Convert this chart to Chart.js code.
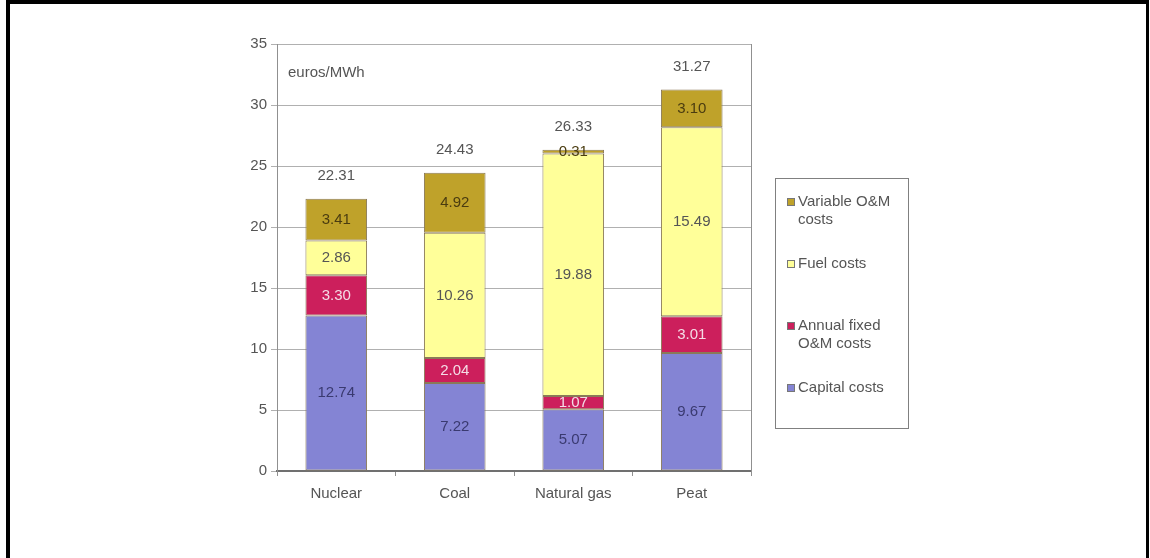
<!DOCTYPE html>
<html>
<head>
<meta charset="utf-8">
<script src="https://cdn.jsdelivr.net/npm/chart.js@4.4.1/dist/chart.umd.min.js"></script>
<style>
  html, body { margin: 0; padding: 0; background: #fff; }
  #wrap { position: relative; width: 1150px; height: 558px; overflow: hidden; }
  #frame { position: absolute; left: 6px; top: 0px; width: 1136px; height: 570px;
           border-top: 4px solid #000; border-left: 4px solid #000; border-right: 3px solid #000; }
  canvas { position: absolute; left: 0; top: 0; }
</style>
</head>
<body>
<div id="wrap">
  <div id="frame"></div>
  <canvas id="costChart" width="1150" height="558"></canvas>
</div>
<script>
const categories = ['Nuclear', 'Coal', 'Natural gas', 'Peat'];
const seriesNames = ['Capital costs', 'Annual fixed O&M costs', 'Fuel costs', 'Variable O&M costs'];
const capitalCosts = [12.74, 7.22, 5.07, 9.67];
const fixedOMCosts = [3.30, 2.04, 1.07, 3.01];
const fuelCosts = [2.86, 10.26, 19.88, 15.49];
const variableOMCosts = [3.41, 4.92, 0.31, 3.10];
const totals = [22.31, 24.43, 26.33, 31.27];
const yTicks = [0, 5, 10, 15, 20, 25, 30, 35];

const colors = ['#8484d4', '#cc1f5c', '#ffff99', '#bfa22a'];
const labelColors = ['#3a3a70', '#f4dce6', '#555555', '#4a3c10'];
const seriesValues = [capitalCosts, fixedOMCosts, fuelCosts, variableOMCosts];
const FONT = '"Liberation Sans", Arial, sans-serif';

// segment values, totals, unit text, plot border
const labelsPlugin = {
  id: 'labelsPlugin',
  afterDatasetsDraw(chart) {
    const ctx = chart.ctx;
    const area = chart.chartArea;
    ctx.save();
    ctx.font = '15px ' + FONT;
    ctx.textAlign = 'center';
    ctx.textBaseline = 'middle';
    chart.data.datasets.forEach((ds, i) => {
      const meta = chart.getDatasetMeta(i);
      meta.data.forEach((bar, j) => {
        ctx.fillStyle = labelColors[i];
        ctx.fillText(ds.data[j].toFixed(2), bar.x, (bar.y + bar.base) / 2);
      });
    });
    const top = chart.getDatasetMeta(chart.data.datasets.length - 1);
    const ys = chart.scales.y;
    top.data.forEach((bar, j) => {
      ctx.fillStyle = '#555';
      ctx.fillText(totals[j].toFixed(2), bar.x, ys.getPixelForValue(totals[j]) - 23);
    });
    ctx.textAlign = 'left';
    ctx.fillStyle = '#555';
    ctx.fillText('euros/MWh', area.left + 11, area.top + 29);
    // right border of plot
    ctx.strokeStyle = '#909090';
    ctx.lineWidth = 1;
    ctx.beginPath();
    ctx.moveTo(area.right + 0.5, area.top);
    ctx.lineTo(area.right + 0.5, area.bottom + 5);
    ctx.stroke();
    ctx.restore();
  }
};

// legend box with wrapped text
const legendPlugin = {
  id: 'legendPlugin',
  afterDraw(chart) {
    const ctx = chart.ctx;
    const bx = 775, by = 178, bw = 133, bh = 250;
    ctx.save();
    ctx.strokeStyle = '#808080';
    ctx.lineWidth = 1;
    ctx.strokeRect(bx + 0.5, by + 0.5, bw, bh);
    ctx.font = '15px ' + FONT;
    ctx.textBaseline = 'middle';
    const n = chart.data.datasets.length;
    for (let k = 0; k < n; k++) {
      const i = n - 1 - k;
      const ds = chart.data.datasets[i];
      const y0 = 202 + k * 62;
      ctx.fillStyle = ds.backgroundColor;
      ctx.fillRect(bx + 12, y0 - 4, 8, 8);
      ctx.strokeStyle = '#777';
      ctx.strokeRect(bx + 12.5, y0 - 3.5, 7, 7);
      const words = ds.label.split(' ');
      const lines = [];
      let cur = '';
      words.forEach(w => {
        const t = cur ? cur + ' ' + w : w;
        if (ctx.measureText(t).width > 108 && cur) { lines.push(cur); cur = w; } else { cur = t; }
      });
      lines.push(cur);
      ctx.fillStyle = '#555';
      lines.forEach((l, li) => ctx.fillText(l, bx + 23, y0 + li * 18));
    }
    ctx.restore();
  }
};

const datasets = seriesNames.map((name, i) => ({
  label: name,
  data: seriesValues[i],
  backgroundColor: colors[i],
  borderColor: '#8a7a58',
  borderWidth: 1,
  borderSkipped: false,
  barPercentage: 0.52,
  categoryPercentage: 1.0,
}));

new Chart(document.getElementById('costChart'), {
  type: 'bar',
  data: { labels: categories, datasets },
  options: {
    responsive: false,
    animation: false,
    layout: { padding: { left: 237, right: 399, top: 44, bottom: 47 } },
    plugins: { legend: { display: false }, tooltip: { enabled: false } },
    scales: {
      x: {
        stacked: true,
        afterFit(scale) { scale.height = 40; },
        grid: { drawOnChartArea: false, drawTicks: true, tickLength: 5, color: '#909090' },
        border: { color: '#707070', width: 2 },
        ticks: { color: '#555', padding: 9, font: { family: FONT, size: 15 } },
      },
      y: {
        stacked: true,
        min: 0,
        max: 35,
        afterFit(scale) { scale.width = 40; },
        afterBuildTicks(scale) { scale.ticks = yTicks.map(v => ({ value: v })); },
        grid: { color: '#b0b0b0', tickLength: 6, drawTicks: true },
        border: { color: '#909090' },
        ticks: { color: '#555', padding: 4, font: { family: FONT, size: 15 } },
      },
    },
  },
  plugins: [labelsPlugin, legendPlugin],
});
</script>
</body>
</html>
